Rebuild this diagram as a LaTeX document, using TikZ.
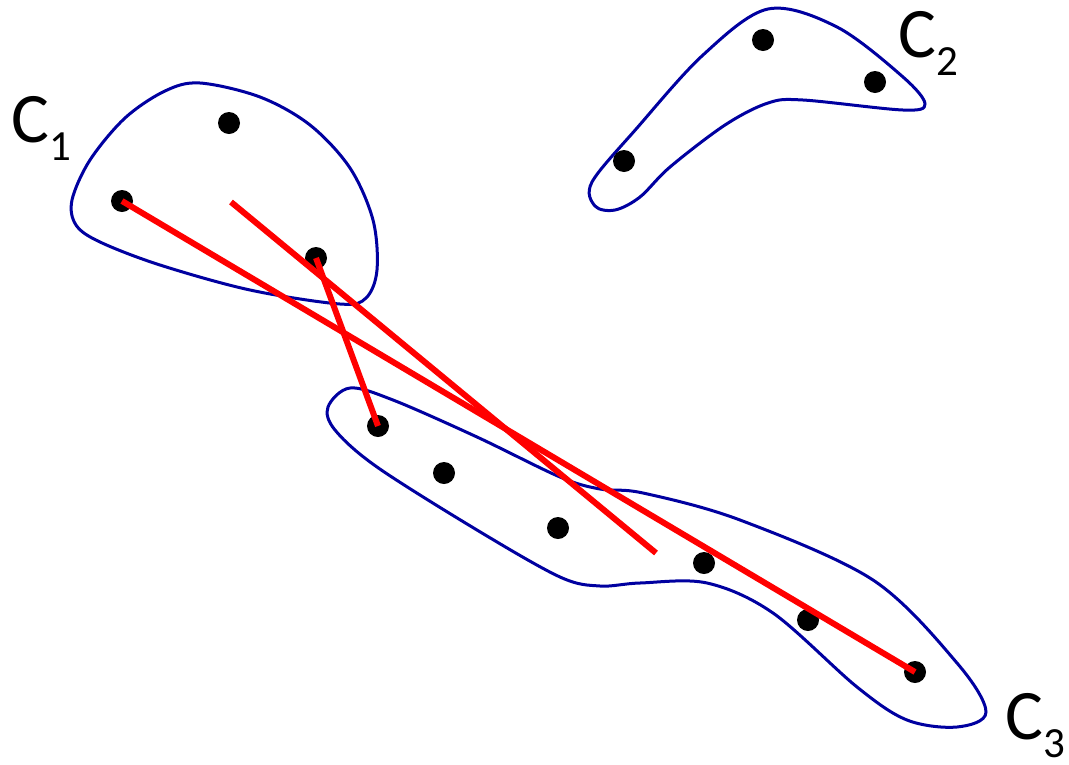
\documentclass[tikz,border=0pt]{standalone}
\usepackage{fontspec}
\setmainfont{Carlito}
\definecolor{blobblue}{RGB}{0,0,160}
\newcommand\lsub[1]{\raisebox{-0.26em}{\fontsize{43}{43}\selectfont #1}}
\begin{document}
\begin{tikzpicture}[x=1pt,y=-1pt,
  pt/.style={circle,fill=black,inner sep=0pt,minimum size=22pt},
  blob/.style={draw=blobblue,line width=3pt},
  link/.style={draw=red,line width=6pt},
  lab/.style={anchor=base west,inner sep=0pt,font=\fontsize{71}{71}\selectfont}]
\useasboundingbox (0,0) rectangle (1069,764);
% cluster outlines
\draw[blob] plot[smooth cycle,tension=0.55] coordinates {(72,200) (90,160) (125,118) (165,91) (200,83) (260,97) (310,125) (350,168) (373,220) (377,270) (366,298) (340,304) (250,290) (160,265) (100,242) (76,225)};
\draw[blob] plot[smooth cycle,tension=0.55] coordinates {(592,182) (637,128) (703,55) (768,9) (837,27) (903,77) (925,104) (903,110) (803,100) (768,103) (725,125) (670,167) (640,197) (615,210) (595,206)};
\draw[blob] plot[smooth cycle,tension=0.55] coordinates {(328,407) (350,388) (393,400) (477,437) (560,477) (600,489) (643,493) (740,520) (873,580) (957,663) (986,712) (957,727) (907,720) (857,687) (773,613) (707,583) (640,583) (600,586) (560,577) (477,530) (377,467) (335,430)};
% points
\node[pt] (a1) at (229,123) {};
\node[pt] (a2) at (122,201) {};
\node[pt] (a3) at (316,258) {};
\node[pt] (b1) at (763,40) {};
\node[pt] (b2) at (875,82) {};
\node[pt] (b3) at (624,161) {};
\node[pt] (c1) at (378,426) {};
\node[pt] (c2) at (444,473) {};
\node[pt] (c3) at (558,528) {};
\node[pt] (c4) at (704,563) {};
\node[pt] (c5) at (808,620) {};
\node[pt] (c6) at (915,672) {};
\coordinate (m1) at (231,202);
\coordinate (m3) at (656,553);
% links
\draw[link] (a2.center) -- (c6.center);
\draw[link] (a3.center) -- (c1.center);
\draw[link] (m1) -- (m3);
% labels
\node[lab] (l1) at (11,142) {C\lsub{1}};
\node[lab] (l2) at (898,57) {C\lsub{2}};
\node[lab] (l3) at (1005,739) {C\lsub{3}};
\end{tikzpicture}
\end{document}
